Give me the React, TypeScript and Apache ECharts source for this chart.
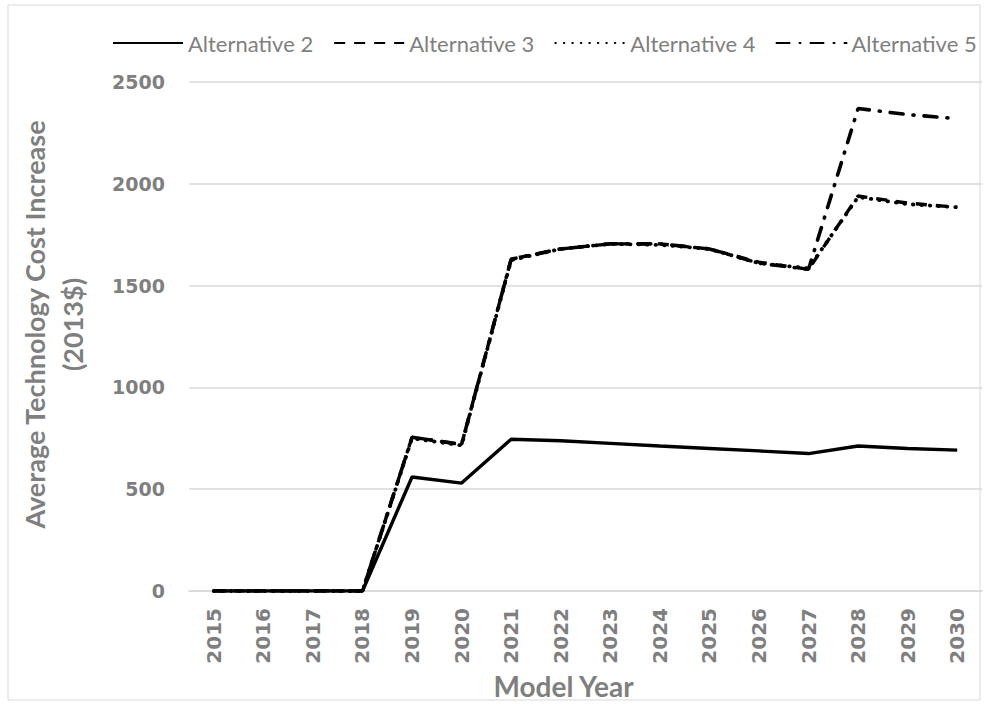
import React, { useEffect, useRef } from "react";
import * as echarts from "echarts";

const years = ["2015","2016","2017","2018","2019","2020","2021","2022","2023","2024","2025","2026","2027","2028","2029","2030"];
const alt2 = [0, 0, 0, 0, 560, 530, 745, 738, 725, 712, 700, 688, 675, 712, 700, 692];
const alt3 = [0, 0, 0, 0, 755, 720, 1630, 1680, 1705, 1705, 1680, 1615, 1580, 1940, 1905, 1885];
const alt4 = [0, 0, 0, 0, 750, 715, 1625, 1680, 1705, 1700, 1680, 1610, 1585, 1935, 1900, 1885];
const alt5 = [0, 0, 0, 0, 755, 720, 1630, 1680, 1705, 1705, 1680, 1610, 1580, 2370, 2340, 2320];
const seriesNames = ["Alternative 2", "Alternative 3", "Alternative 4", "Alternative 5"];

const GRAY = "#7f7f7f";

export default function App() {
  const ref = useRef<HTMLDivElement>(null);
  useEffect(() => {
    if (!ref.current) return;
    const chart = echarts.init(ref.current, null, { renderer: "svg" });
    const mk = (name: string, data: number[], type: any, cap: any = "butt", width = 3.4) => ({
      name,
      type: "line",
      data,
      symbol: "none",
      lineStyle: { color: "#000", width, type, cap },
      itemStyle: { color: "#000" },
    });
    chart.setOption({
      animation: false,
      backgroundColor: "#fff",
      graphic: [
        {
          type: "rect",
          shape: { x: 8, y: 5, width: 972, height: 695 },
          style: { fill: "none", stroke: "#d9d9d9", lineWidth: 1 },
          silent: true,
        },
      ],
      legend: {
        top: 32,
        left: 112,
        width: 870,
        padding: 0,
        itemWidth: 70,
        itemHeight: 14,
        itemGap: 20,
        itemStyle: { color: "rgba(0,0,0,0)", opacity: 0, borderWidth: 0 },
        textStyle: { color: GRAY, fontSize: 22, fontFamily: "Lato" },
        data: seriesNames,
      },
      grid: { left: 189, right: 3, top: 82, bottom: 114, containLabel: false, outerBoundsMode: "none" },
      xAxis: {
        type: "category",
        data: years,
        boundaryGap: true,
        name: "Model Year",
        nameLocation: "middle",
        nameGap: 80,
        nameTextStyle: { color: GRAY, fontSize: 28, fontWeight: "bold", fontFamily: "Lato", padding: [0, 44, 0, 0] },
        axisLine: { show: true, lineStyle: { color: "#d9d9d9", width: 1.5 } },
        axisTick: { show: false },
        axisLabel: {
          rotate: 90,
          color: GRAY,
          fontSize: 20,
          fontWeight: "bold",
          fontFamily: "DejaVu Sans",
          margin: 17,
          interval: 0,
        },
      },
      yAxis: {
        type: "value",
        min: 0,
        max: 2500,
        interval: 500,
        name: "Average Technology Cost Increase\n(2013$)",
        nameLocation: "middle",
        nameGap: 98,
        nameTextStyle: {
          color: GRAY,
          fontSize: 27,
          fontWeight: "bold",
          fontFamily: "Lato",
          lineHeight: 38,
          padding: [0, 0, 0, 24],
        },
        axisLine: { show: false },
        axisTick: { show: false },
        splitLine: { lineStyle: { color: "#d9d9d9", width: 1.5 } },
        axisLabel: {
          color: GRAY,
          fontSize: 19,
          fontWeight: "bold",
          fontFamily: "DejaVu Sans",
          margin: 24,
          formatter: (v: number) => String(v),
        },
      },
      series: [
        mk(seriesNames[0], alt2, "solid"),
        mk(seriesNames[1], alt3, [11, 9]),
        mk(seriesNames[2], alt4, [0.5, 8], "round", 3.8),
        mk(seriesNames[3], alt5, [13, 10, 1, 10], "round", 3.6),
      ],
    });
    return () => chart.dispose();
  }, []);
  return (
    <div
      ref={ref}
      style={{ position: "fixed", left: 0, top: 0, width: 985, height: 705, background: "#fff" }}
    />
  );
}
